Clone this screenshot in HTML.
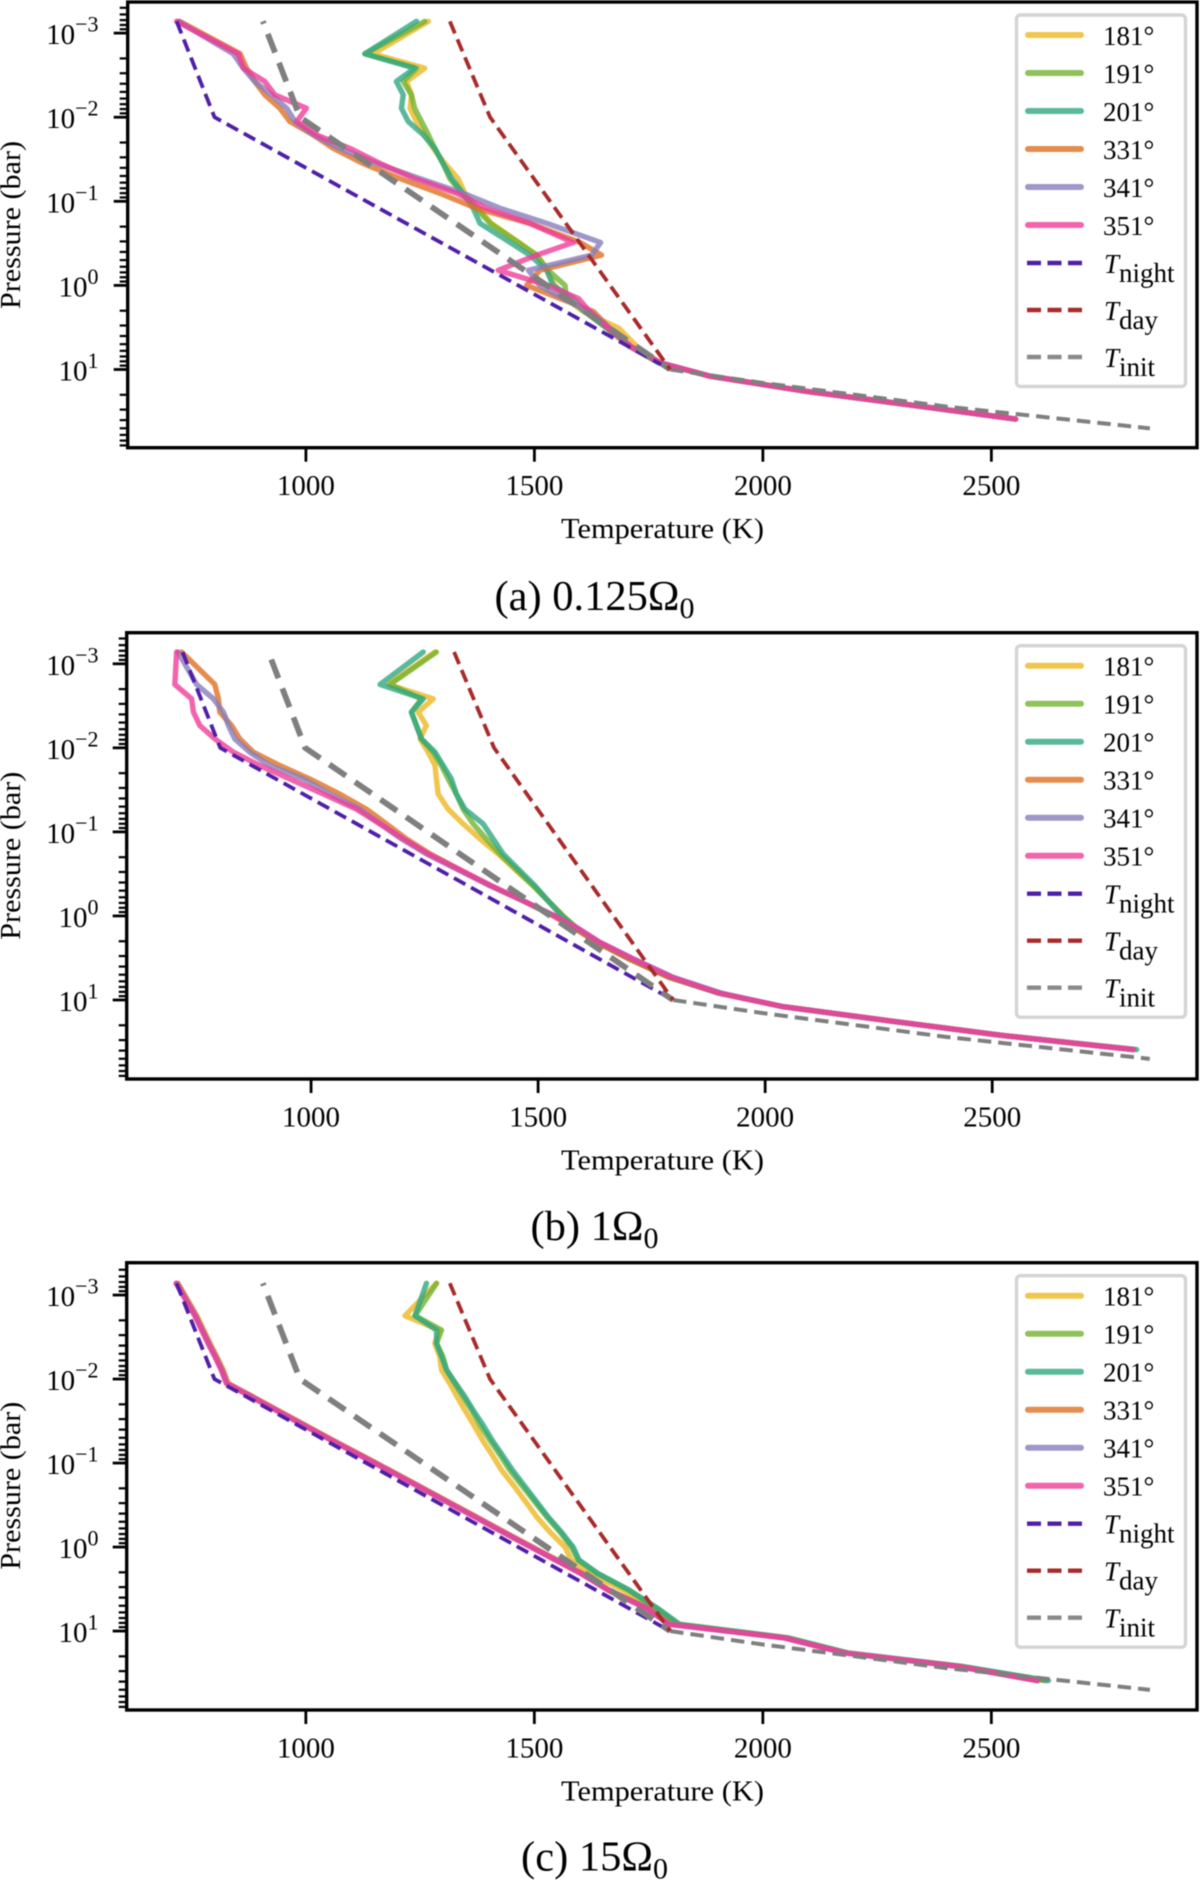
<!DOCTYPE html>
<html lang="en">
<head>
<meta charset="utf-8">
<title>Temperature-pressure profiles</title>
<style>
html,body{margin:0;padding:0;background:#fff;width:1200px;height:1880px;overflow:hidden}
svg{display:block;filter:blur(0.5px)}
text{font-family:"Liberation Serif","DejaVu Serif",serif;fill:#000}
</style>
</head>
<body>
<svg id="figure" xmlns="http://www.w3.org/2000/svg" width="1200" height="1880" viewBox="0 0 1200 1880"></svg>
<script>
// Shared pressure grid, log10(bar)
const logPressureLevels = [-3.14,-2.754,-2.583,-2.425,-2.266,-2.107,-1.948,-1.79,-1.63,-1.45,-1.27,-1.095,-0.917,-0.738,-0.51,-0.36,-0.18,0,0.155,0.31,0.51,0.73,0.92,1.08,1.26,1.42,1.59];
const seriesLabels = ['181°','191°','201°','331°','341°','351°'];
const xTickValues = [1000,1500,2000,2500];
const yTickExponents = [-3,-2,-1,0,1];
const yTickLabels = ['−3','−2','−1','0','1'];

// Panel (a) 0.125 Omega_0 temperatures (K)
const panelA181 = [1268,1147,1260,1220,1231,1228,1242,1260,1279,1304,1333,1348,1377,1406,1466,1505,1527,1545,1570,1607,1685,1725,1775,1885,2095,2320,2553];
const panelA191 = [1260,1129,1242,1213,1231,1238,1253,1268,1282,1300,1315,1341,1373,1403,1465,1505,1530,1567,1570,1610,1658,1709,1772,1885,2095,2320,2553];
const panelA201 = [1242,1129,1238,1198,1213,1209,1224,1257,1282,1300,1319,1344,1366,1381,1447,1490,1527,1541,1585,1610,1660,1712,1772,1885,2095,2320,2553];
const panelA331 = [724,856,870,888,910,943,965,1016,1060,1125,1206,1293,1373,1490,1600,1647,1512,1483,1556,1629,1665,1710,1775,1885,2095,2320,2553];
const panelA341 = [721,841,863,888,925,958,976,1016,1074,1155,1249,1344,1425,1527,1645,1625,1487,1512,1563,1621,1665,1712,1775,1885,2095,2320,2553];
const panelA351 = [717,852,863,910,932,1001,980,1023,1096,1162,1238,1330,1395,1490,1585,1505,1421,1530,1596,1621,1662,1712,1775,1885,2095,2320,2553];

// Panel (b) 1 Omega_0 temperatures (K)
const panelB181 = [1273,1170,1269,1236,1254,1240,1258,1273,1276,1280,1302,1335,1372,1412,1458,1489,1522,1555,1585,1628,1700,1788,1900,2040,2290,2520,2810];
const panelB191 = [1276,1174,1243,1221,1232,1243,1269,1287,1302,1320,1335,1357,1386,1416,1460,1489,1522,1555,1588,1629,1702,1790,1900,2040,2290,2520,2812];
const panelB201 = [1247,1152,1247,1221,1232,1243,1273,1291,1309,1320,1339,1379,1401,1423,1465,1493,1522,1552,1585,1628,1700,1788,1898,2040,2290,2520,2818];
const panelB331 = [715,788,796,799,825,843,873,931,997,1063,1122,1166,1210,1262,1342,1394,1467,1533,1582,1628,1700,1788,1900,2040,2290,2520,2810];
const panelB341 = [707,748,785,807,818,832,865,909,983,1041,1107,1152,1199,1254,1338,1394,1467,1537,1590,1635,1710,1798,1905,2040,2290,2520,2810];
const panelB351 = [704,700,737,741,755,788,829,887,953,1027,1100,1152,1203,1258,1342,1397,1467,1537,1590,1635,1708,1795,1900,2040,2290,2520,2810];

// Panel (c) 15 Omega_0 temperatures (K)
const panelC181 = [1286,1217,1293,1282,1293,1297,1315,1331,1348,1368,1387,1408,1428,1454,1485,1505,1534,1567,1581,1621,1694,1760,1815,2050,2182,2431,2615];
const panelC191 = [1286,1239,1297,1286,1300,1308,1326,1344,1363,1381,1403,1425,1446,1472,1505,1527,1556,1581,1596,1636,1705,1767,1815,2052,2184,2433,2620];
const panelC201 = [1264,1239,1286,1286,1297,1308,1328,1348,1366,1388,1408,1430,1452,1477,1509,1530,1559,1585,1598,1638,1707,1770,1818,2055,2186,2435,2625];
const panelC331 = [720,761,776,790,805,819,830,884,938,999,1060,1121,1183,1244,1322,1373,1434,1496,1550,1604,1664,1749,1797,2047,2180,2427,2602];
const panelC341 = [717,758,773,787,802,816,827,881,935,996,1057,1118,1180,1241,1319,1370,1431,1493,1547,1601,1661,1746,1795,2045,2178,2425,2600];
const panelC351 = [716,757,772,786,801,815,826,880,934,995,1056,1117,1179,1240,1318,1369,1430,1492,1546,1600,1660,1745,1795,2045,2178,2425,2600];

// Reference profiles
const nightLogP = [-3.14,-2,1];
const dayLogP = [-3.14,-2,1];
const initLogP = [-3.14,-2,1,1.16,1.44,1.7];
const nightTemps = [717,800,1797];
const dayTemps = [1315,1403,1797];
const initTemps = [906,987,1797,2000,2400,2847];

const seriesColors = ['#ecb823','#73b331','#32a882','#df7123','#887dbc','#ef3d97'];
const NS = 'http://www.w3.org/2000/svg';
const root = document.getElementById('figure');

function mk(tag, attrs, parent, txt){
  const e = document.createElementNS(NS, tag);
  for (const k in attrs) e.setAttribute(k, attrs[k]);
  if (txt !== undefined) e.textContent = txt;
  (parent || root).appendChild(e);
  return e;
}
function pathFrom(ts, ps, sx, sy){
  return ts.map((t,i)=>(i?'L':'M')+sx(t).toFixed(2)+' '+sy(ps[i]).toFixed(2)).join(' ');
}

const panels = [
 {id:'a', left:127.7,right:1197,top:2,bottom:447.7,tMin:610,tMax:2950,pMin:-3.37,pMax:1.93,dy:0,initOffset:17.5,
  series:[panelA181,panelA191,panelA201,panelA331,panelA341,panelA351], caption:['(a) 0.125Ω','0'], capY:610},
 {id:'b', left:126.7,right:1197,top:632.7,bottom:1079,tMin:594,tMax:2951,pMin:-3.37,pMax:1.94,dy:630.7,initOffset:23,
  series:[panelB181,panelB191,panelB201,panelB331,panelB341,panelB351], caption:['(b) 1Ω','0'], capY:1240},
 {id:'c', left:126.7,right:1197,top:1262.7,bottom:1710,tMin:608,tMax:2950,pMin:-3.385,pMax:1.94,dy:1260.7,initOffset:17.5,
  series:[panelC181,panelC191,panelC201,panelC331,panelC341,panelC351], caption:['(c) 15Ω','0'], capY:1870.7}
];

panels.forEach(function(p){
  const sx = t => p.left + (t - p.tMin) / (p.tMax - p.tMin) * (p.right - p.left);
  const sy = v => p.top + (v - p.pMin) / (p.pMax - p.pMin) * (p.bottom - p.top);
  const g = mk('g', {});
  
  

  // Data series
  p.series.forEach(function(vals, i){
    const line = mk('path', {d:pathFrom(vals, logPressureLevels, sx, sy), fill:'none', stroke:seriesColors[i], 'stroke-opacity':0.8, 'stroke-width':5.4, 'stroke-linejoin':'round', 'stroke-linecap':'round'}, g);
    
    
  });

  // Reference dashed lines
  const night = mk('path', {d:pathFrom(nightTemps, nightLogP, sx, sy), fill:'none', stroke:'#4f1fa8', 'stroke-width':3.8, 'stroke-dasharray':'13 6.5'}, g);
  
  
  const initUpper = mk('path', {d:pathFrom(initTemps.slice(0,3), initLogP.slice(0,3), sx, sy), fill:'none', stroke:'#7f7f7f', 'stroke-width':5.8, 'stroke-dasharray':'20 11', 'stroke-dashoffset':p.initOffset}, g);
  
  
  const initLower = mk('path', {d:pathFrom(initTemps.slice(2), initLogP.slice(2), sx, sy), fill:'none', stroke:'#7f7f7f', 'stroke-width':4, 'stroke-dasharray':'13.5 7'}, g);
  
  
  const day = mk('path', {d:pathFrom(dayTemps, dayLogP, sx, sy), fill:'none', stroke:'#a82a2a', 'stroke-width':3.8, 'stroke-dasharray':'13 6.5'}, g);
  
  

  // Axes frame
  const frame = mk('rect', {x:p.left, y:p.top, width:p.right-p.left, height:p.bottom-p.top, fill:'none', stroke:'#000', 'stroke-width':3.4}, g);
  
  

  // X ticks
  xTickValues.forEach(function(t){
    const x = sx(t);
    const tick = mk('line', {x1:x, x2:x, y1:p.bottom, y2:p.bottom+14, stroke:'#000', 'stroke-width':2.8}, g);
    
    
    const lab = mk('text', {x:x, y:p.bottom+47.5, 'font-size':29, 'text-anchor':'middle'}, g, String(t));
    
    
  });

  // Y ticks, major and minor
  yTickExponents.forEach(function(e, i){
    const y = sy(e);
    const tick = mk('line', {x1:p.left, x2:p.left-14, y1:y, y2:y, stroke:'#000', 'stroke-width':2.8}, g);
    
    
    const lab = mk('text', {x:98.5, y:y+11, 'font-size':29, 'text-anchor':'end'}, g);
    
    
    mk('tspan', {}, lab, '10');
    mk('tspan', {'font-size':22, dy:-12.5}, lab, yTickLabels[i]);
  });
  for (let e = -4; e <= 1; e++) {
    for (let m = 2; m <= 9; m++) {
      const v = e + Math.log10(m);
      if (v < p.pMin || v > p.pMax) continue;
      const y = sy(v);
      const minor = mk('line', {x1:p.left, x2:p.left-8, y1:y, y2:y, stroke:'#000', 'stroke-width':2.2}, g);
      
      
    }
  }

  // Axis titles
  const xt = mk('text', {x:662.5, y:p.bottom+90.5, 'font-size':29, 'text-anchor':'middle', textLength:203, lengthAdjust:'spacingAndGlyphs'}, g, 'Temperature (K)');
  
  
  const yc = p.top + 223;
  const yt = mk('text', {x:0, y:0, transform:'translate(20 '+yc+') rotate(-90)', 'font-size':29, 'text-anchor':'middle', textLength:168, lengthAdjust:'spacingAndGlyphs'}, g, 'Pressure (bar)');
  
  

  // Caption
  const cap = mk('text', {x:594.5, y:p.capY, 'font-size':42.5, 'text-anchor':'middle'}, g);
  
  
  mk('tspan', {}, cap, p.caption[0]);
  mk('tspan', {'font-size':30, dy:8}, cap, p.caption[1]);

  // Legend
  const lg = mk('g', {transform:'translate(0 '+p.dy+')'}, g);
  
  
  const box = mk('rect', {x:1016.5, y:15, width:169, height:371.5, rx:4, ry:4, fill:'#fff', 'fill-opacity':0.8, stroke:'#d4d4d4', 'stroke-width':3.4}, lg);
  
  
  seriesLabels.forEach(function(label, i){
    const y = 35 + 38*i;
    const sw = mk('line', {x1:1028, x2:1081, y1:y, y2:y, stroke:seriesColors[i], 'stroke-opacity':0.8, 'stroke-width':6, 'stroke-linecap':'round'}, lg);
    
    
    const tx = mk('text', {x:1103, y:y+10, 'font-size':27}, lg, label);
    
    
  });
  [['night','#4f1fa8',263],['day','#a82a2a',310],['init','#8a8a8a',357]].forEach(function(r){
    const sw = mk('line', {x1:1027, x2:1082, y1:r[2], y2:r[2], stroke:r[1], 'stroke-width':4.4, 'stroke-dasharray':'14 6.5'}, lg);
    
    
    const tx = mk('text', {x:1104, y:r[2]+10, 'font-size':27}, lg);
    
    
    mk('tspan', {'font-style':'italic'}, tx, 'T');
    mk('tspan', {dy:9}, tx, r[0]);
  });
});
</script>
</body>
</html>
